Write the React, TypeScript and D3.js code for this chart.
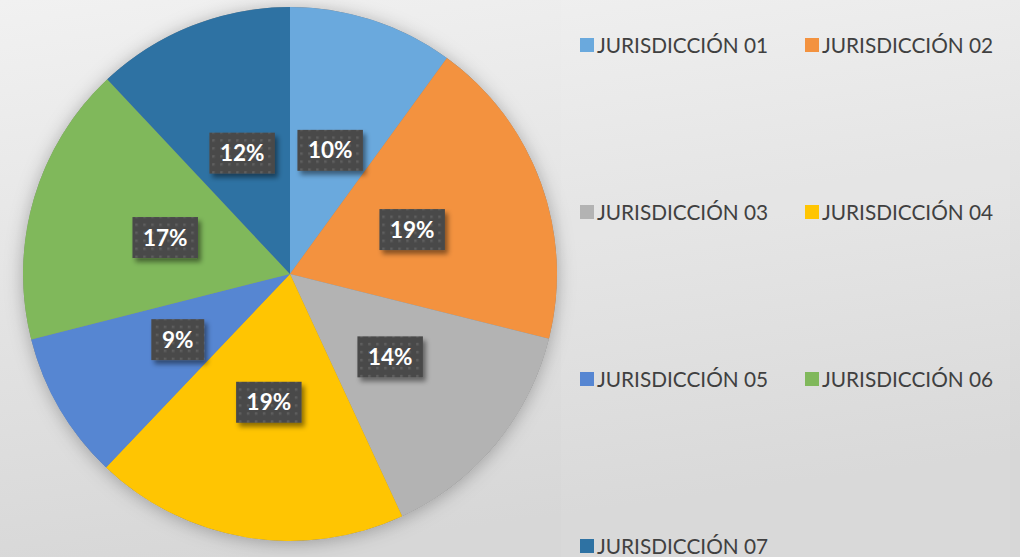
import React from "react";
import * as d3 from "d3";

const categories = [
  "JURISDICCIÓN 01",
  "JURISDICCIÓN 02",
  "JURISDICCIÓN 03",
  "JURISDICCIÓN 04",
  "JURISDICCIÓN 05",
  "JURISDICCIÓN 06",
  "JURISDICCIÓN 07",
];
const values = [10, 18.9, 14.2, 19, 8.95, 16.95, 12];
const colors = ["#6aa9dd", "#f3923f", "#b3b3b3", "#ffc502", "#5686d2", "#80b85b", "#2e72a3"];

const W = 1020;
const H = 557;

export default function App() {
  const cx = 290, cy = 274, R = 267, labelR = 130;
  const total = d3.sum(values);
  const pie = d3.pie<number>().sort(null).value((d) => d)(values);
  const arc = d3.arc<d3.PieArcDatum<number>>().innerRadius(0).outerRadius(R);
  const labelArc = d3.arc<d3.PieArcDatum<number>>().innerRadius(labelR).outerRadius(labelR);
  const fmt = d3.format(".0%");

  const legendX = d3.scaleOrdinal<number, number>().domain([0, 1]).range([580, 805]);
  const legendY = d3.scaleLinear().domain([0, 3]).range([45, 546]);

  return (
    <svg
      width={W}
      height={H}
      style={{ position: "fixed", left: 0, top: 0 }}
      fontFamily="Lato, 'Open Sans', sans-serif"
    >
      <defs>
        <linearGradient id="bg" x1="0" y1="0" x2="0.25" y2="1">
          <stop offset="0" stopColor="#f1f1f1" />
          <stop offset="1" stopColor="#d7d7d7" />
        </linearGradient>
        <filter id="pieShadow" x="-20%" y="-20%" width="140%" height="140%">
          <feDropShadow dx="0" dy="2" stdDeviation="9" floodColor="#000" floodOpacity="0.28" />
        </filter>
        <filter id="boxShadow" x="-30%" y="-30%" width="160%" height="170%">
          <feDropShadow dx="3" dy="4" stdDeviation="2.5" floodColor="#000" floodOpacity="0.45" />
        </filter>
        <pattern id="dots" width="8" height="8" patternUnits="userSpaceOnUse">
          <rect width="8" height="8" fill="#4a4a4a" />
          <rect x="2" y="2" width="2.5" height="2.5" fill="#5e5e5e" />
        </pattern>
      </defs>
      <rect width={W} height={H} fill="url(#bg)" />
      <rect x={561} y={0} width={449} height={H} fill="#ffffff" opacity={0.07} />

      <g transform={`translate(${cx},${cy})`}>
        <circle r={R} fill="#888" filter="url(#pieShadow)" />
        {pie.map((d, i) => (
          <path key={i} d={arc(d) || ""} fill={colors[i]} />
        ))}
        {pie.map((d, i) => {
          const [lx, ly] = labelArc.centroid(d);
          const txt = fmt(d.value / total);
          const bw = txt.length * 12.5 + 28;
          const bh = 41;
          return (
            <g key={"l" + i} transform={`translate(${lx},${ly})`}>
              <rect
                x={-bw / 2}
                y={-bh / 2}
                width={bw}
                height={bh}
                fill="url(#dots)"
                filter="url(#boxShadow)"
              />
              <text
                x={0}
                y={8}
                textAnchor="middle"
                fill="#ffffff"
                fontWeight="bold"
                fontSize={22.5}
              >
                {txt}
              </text>
            </g>
          );
        })}
      </g>

      <g>
        {categories.map((c, i) => {
          const x = legendX(i % 2);
          const y = legendY(Math.floor(i / 2));
          return (
            <g key={c} transform={`translate(${x},${y})`}>
              <rect x={0} y={-7} width={14} height={14} fill={colors[i]} />
              <text x={17} y={8} fontSize={20.8} fill="#404040">
                {c}
              </text>
            </g>
          );
        })}
      </g>
    </svg>
  );
}
